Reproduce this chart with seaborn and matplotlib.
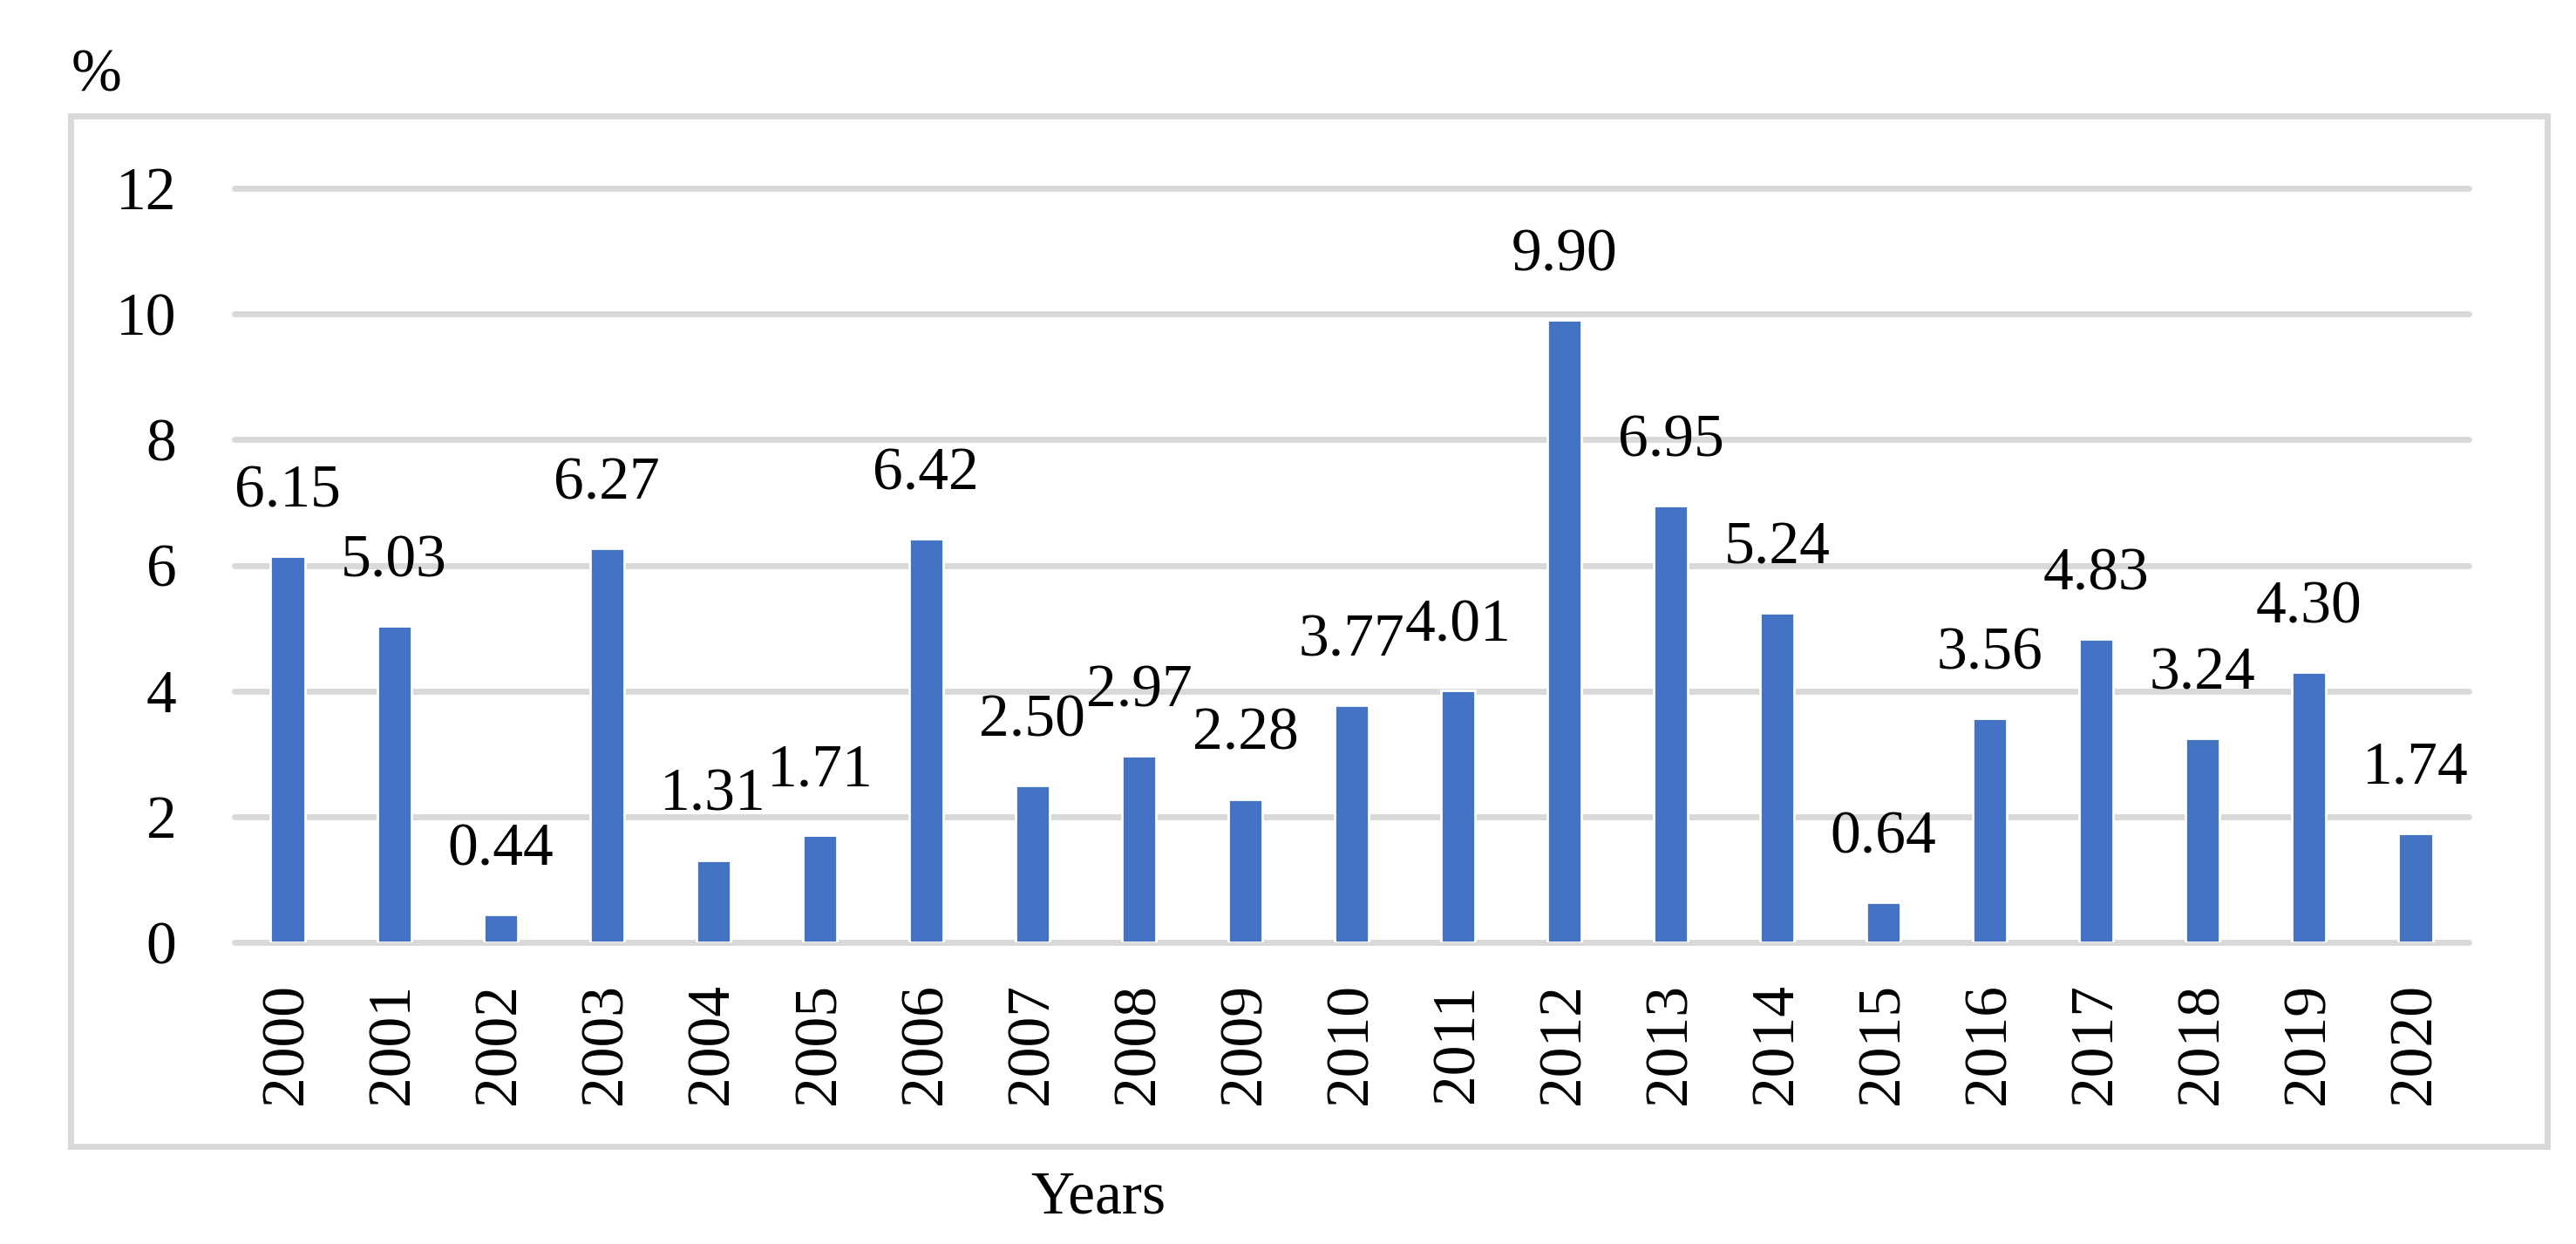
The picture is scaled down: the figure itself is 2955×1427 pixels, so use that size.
import matplotlib
matplotlib.use("Agg")
import matplotlib.pyplot as plt
import seaborn as sns
from matplotlib.patches import Rectangle

years = [str(y) for y in range(2000, 2021)]
values = [6.15, 5.03, 0.44, 6.27, 1.31, 1.71, 6.42, 2.50, 2.97, 2.28, 3.77,
          4.01, 9.90, 6.95, 5.24, 0.64, 3.56, 4.83, 3.24, 4.30, 1.74]
y_ticks = [0, 2, 4, 6, 8, 10, 12]

BLUE = "#4472C4"
GRID = "#D9D9D9"
FS = 25

sns.set_style("white")
plt.rcParams["font.family"] = ["Liberation Serif", "DejaVu Serif"]
plt.rcParams["text.color"] = "black"

W, H, DPI = 2955, 1427, 200
fig = plt.figure(figsize=(W / DPI, H / DPI), dpi=DPI)

# outer light-grey frame (Excel chart area border)
fig.patches.append(Rectangle((81 / W, 1 - 1315 / H), (2922 - 81) / W, (1315 - 133) / H,
                             transform=fig.transFigure, fill=False,
                             edgecolor=GRID, linewidth=2.5, zorder=0))

ax = fig.add_axes([269 / W, 1 - 1081 / H, (2832 - 269) / W, (1081 - 216) / H])
sns.barplot(x=years, y=values, color=BLUE, saturation=1, width=0.32, ax=ax, zorder=3)

ax.set_ylim(0, 12)
ax.set_xlim(-0.5, len(years) - 0.5)
ax.set_yticks(y_ticks)
ax.set_axisbelow(True)
ax.yaxis.grid(True, color=GRID, linewidth=2.5)
for gl in ax.get_ygridlines():
    gl.set_clip_on(False)
for s in ax.spines.values():
    s.set_visible(False)

ax.tick_params(axis="y", length=0, pad=24, labelsize=FS, labelcolor="black")
ax.tick_params(axis="x", length=0, pad=17, labelsize=FS, labelrotation=90,
               labelcolor="black")
ax.set_xlabel("")
ax.set_ylabel("")

ax.bar_label(ax.containers[0], fmt="%.2f", padding=15, fontsize=FS, color="black")

fig.text(82 / W, 1 - 88 / H, "%", ha="left", va="center", fontsize=FS)
fig.text(1260 / W, 1 - 1392 / H, "Years", ha="center", va="baseline", fontsize=FS)

fig.savefig("out.png", dpi=DPI, facecolor="white")
